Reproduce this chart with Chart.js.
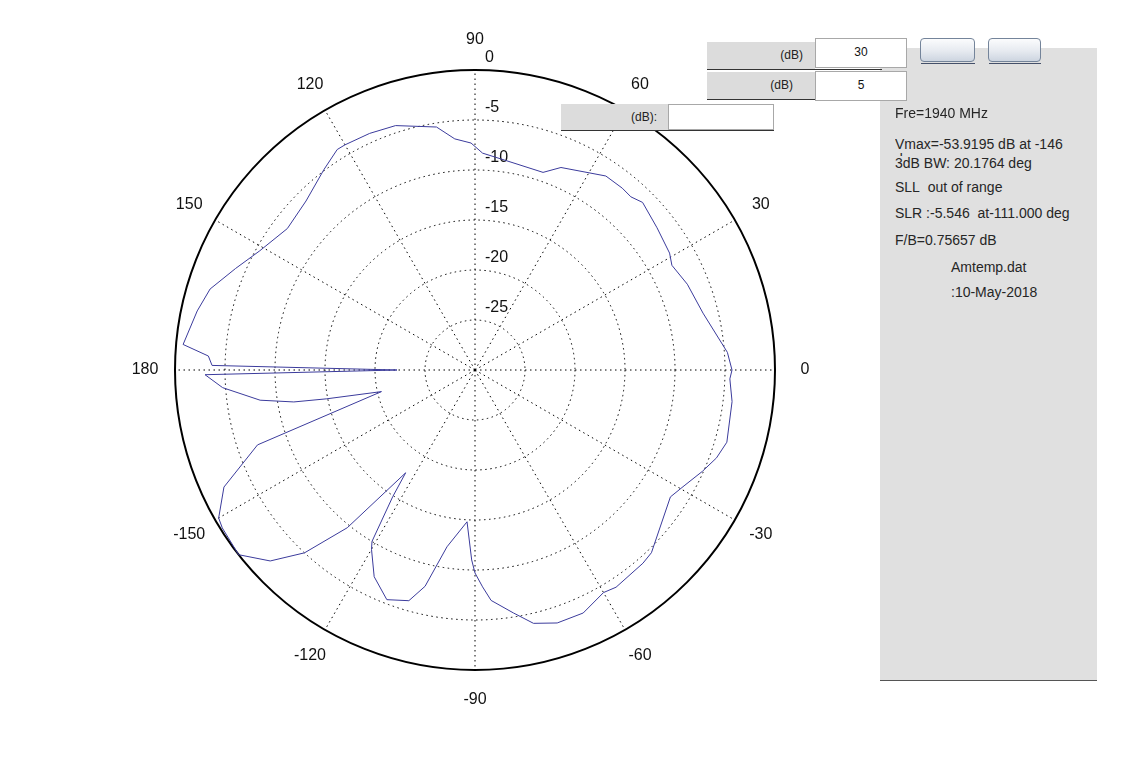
<!DOCTYPE html>
<html>
<head>
<meta charset="utf-8">
<script src="https://cdn.jsdelivr.net/npm/chart.js@4.4.1/dist/chart.umd.min.js"></script>
<style>
    html, body { margin: 0; padding: 0; background: #fff; }
    #page { position: relative; width: 1127px; height: 758px; overflow: hidden; font-family: "Liberation Sans", Arial, sans-serif; }
    #polar { position: absolute; left: 0; top: 0; }
    .box { position: absolute; box-sizing: border-box; }
    .lbl { background: #dcdcdc; color: #222; font-size: 12px; text-align: right; }
    .edit { background: #fff; border: 1px solid #a8a8a8; color: #111; font-size: 12px; text-align: center; }
    .line { position: absolute; height: 1px; background: #333; }
    .btn { position: absolute; box-sizing: border-box; border: 1px solid #74849a; border-radius: 4px;
           background: linear-gradient(#fbfcfd, #e6eaf0 55%, #cdd5e0); }
    .info { position: absolute; left: 895px; color: #262626; font-size: 14px; white-space: nowrap; line-height: 16px; }
</style>
</head>
<body>
<div id="page">
    <canvas id="polar" width="1127" height="758"></canvas>

    <!-- right side panel -->
    <div class="box" style="left:880px; top:48px; width:217px; height:632px; background:#e0e0e0;"></div>
    <div class="line" style="left:880px; top:680px; width:217px; background:#555;"></div>

    <!-- row 1 -->
    <div class="box lbl" style="left:707px; top:42px; width:108px; height:27px; line-height:27px; padding-right:12px;">(dB)</div>
    <div class="line" style="left:707px; top:69px; width:175px;"></div>
    <div class="box edit" style="left:815px; top:38px; width:92px; height:30px; line-height:27px;">30</div>
    <div class="btn" style="left:920px; top:38px; width:55px; height:24px;"></div>
    <div class="line" style="left:921px; top:63px; width:54px; background:#44506a;"></div>
    <div class="btn" style="left:988px; top:38px; width:53px; height:24px;"></div>
    <div class="line" style="left:989px; top:63px; width:52px; background:#44506a;"></div>

    <!-- row 2 -->
    <div class="box lbl" style="left:707px; top:72px; width:108px; height:27px; line-height:27px; padding-right:22px;">(dB)</div>
    <div class="line" style="left:707px; top:99px; width:108px;"></div>
    <div class="box edit" style="left:815px; top:71px; width:92px; height:30px; line-height:27px;">5</div>

    <!-- row 3 -->
    <div class="box lbl" style="left:561px; top:104px; width:107px; height:26px; line-height:26px; padding-right:11px;">(dB):</div>
    <div class="box edit" style="left:668px; top:104px; width:106px; height:26px;"></div>
    <div class="line" style="left:561px; top:130px; width:213px;"></div>

    <!-- info texts -->
    <div class="info" style="top:105px;">Fre=1940 MHz</div>
    <div class="info" style="top:137px; height:20px; overflow:hidden; white-space:normal; width:185px; line-height:15px;">Vmax=-53.9195 dB at -146 deg</div>
    <div class="info" style="top:156px; background:#e0e0e0; width:195px; line-height:15px;">3dB BW: 20.1764 deg</div>
    <div class="info" style="top:179px;">SLL&nbsp; out of range</div>
    <div class="info" style="top:205px;">SLR :-5.546&nbsp; at-111.000 deg</div>
    <div class="info" style="top:232px;">F/B=0.75657 dB</div>
    <div class="info" style="top:259px; left:951px;">Amtemp.dat</div>
    <div class="info" style="top:284px; left:951px;">:10-May-2018</div>
</div>

<script>
// measured pattern, angle in degrees (0 = right, counter-clockwise) and level in dB
const angleDeg = [-179, -176, -172, -170, -169, -167, -161, -155, -150, -148, -142, -137, -133, -129,
    -124, -123, -121, -120, -116, -111, -106, -103, -99, -93, -91, -90, -88, -86, -81, -77, -72, -66,
    -60, -57, -49, -46, -33, -29, -24, -20, -16, -7, -2, 0, 4, 14, 22, 28, 31, 38, 45, 48, 51, 56, 67,
    71, 82, 88, 91, 95, 99, 108, 114, 120, 122, 127, 135, 143, 151, 157, 163, 168, 175, 177, 179, 180];
const gainDb = [-3.0, -4.7, -8.3, -11.6, -14.9, -20.4, -7.0, -2.3, -0.4, -0.2, 0.0, -2.0, -5.0, -9.7,
    -17.6, -14.9, -10.0, -9.3, -7.0, -5.4, -6.0, -7.8, -12.1, -14.8, -11.0, -9.7, -8.3, -6.9, -5.4, -4.0, -3.4, -3.4,
    -4.3, -4.1, -4.4, -4.6, -6.7, -6.1, -5.1, -4.3, -3.8, -4.1, -4.5, -4.3, -4.7, -6.5, -7.1, -7.7, -7.3, -6.9, -6.3, -6.7, -6.6, -6.6, -8.0,
    -9.1, -8.8, -8.3, -7.3, -6.8, -5.4, -4.3, -4.1, -4.0, -4.0, -4.9, -6.1, -6.5, -5.4, -4.0, -2.3, -1.6, -0.7, -3.3, -3.7, -22.2];

// axis
const spokeAngles = [0, 30, 60, 90, 120, 150, 180, -150, -120, -90, -60, -30];
const spokeLabels = ['0', '30', '60', '90', '120', '150', '180', '-150', '-120', '-90', '-60', '-30'];
const ringTicks = [-25, -20, -15, -10, -5, 0];
const rMin = -30;
const rMax = 0;
const rStep = 5;

// radar goes clockwise from the top, one label per degree: index i -> angle 90 - i
const indexOf = a => ((90 - a) % 360 + 360) % 360;
const degreeLabels = [];
for (let i = 0; i < 360; i++) {
    let a = 90 - i;
    if (a <= -180) a += 360;
    degreeLabels.push(a);
}
const patternData = new Array(360).fill(null);
angleDeg.forEach((a, k) => { patternData[indexOf(a)] = gainDb[k]; });

const font16 = '16px "Liberation Sans", Arial, sans-serif';

const polarLabels = {
    id: 'polarLabels',
    beforeDatasetsDraw(chart) {
        const r = chart.scales.r;
        const ctx = chart.ctx;
        ctx.save();
        ctx.fillStyle = '#111';
        ctx.font = font16;
        ctx.textAlign = 'center';
        ctx.textBaseline = 'middle';
        spokeAngles.forEach((a, k) => {
            const p = r.getPointPosition(indexOf(a), r.drawingArea * 1.1);
            ctx.fillText(spokeLabels[k], p.x, p.y);
        });
        ctx.textAlign = 'left';
        ctx.textBaseline = 'alphabetic';
        ringTicks.forEach(v => {
            const d = r.getDistanceFromCenterForValue(v);
            ctx.fillText(String(v), r.xCenter + 10, r.yCenter - d - 8);
        });
        ctx.restore();
    }
};

new Chart(document.getElementById('polar'), {
    type: 'radar',
    data: {
        labels: degreeLabels,
        datasets: [{
            data: patternData,
            borderColor: '#3b3b9c',
            borderWidth: 1,
            fill: false,
            pointRadius: 0,
            pointHitRadius: 0,
            spanGaps: true,
            tension: 0,
            clip: false
        }]
    },
    options: {
        responsive: false,
        animation: false,
        devicePixelRatio: 1,
        layout: { padding: { left: 175, top: 70, right: 352, bottom: 88 } },
        plugins: { legend: { display: false }, tooltip: { enabled: false } },
        scales: {
            r: {
                min: rMin,
                max: rMax,
                ticks: { stepSize: rStep, display: false },
                pointLabels: { display: false },
                grid: {
                    circular: true,
                    color: '#000',
                    lineWidth: ctx => (ctx.tick && ctx.tick.value === rMax ? 2 : 1)
                },
                border: {
                    dash: ctx => (ctx.tick && ctx.tick.value === rMax ? [] : [1.5, 3.5])
                },
                angleLines: {
                    display: true,
                    color: '#000',
                    lineWidth: ctx => (ctx.index % 30 === 0 ? 1 : 0),
                    borderDash: [1.5, 3.5]
                }
            }
        }
    },
    plugins: [polarLabels]
});
</script>
</body>
</html>
